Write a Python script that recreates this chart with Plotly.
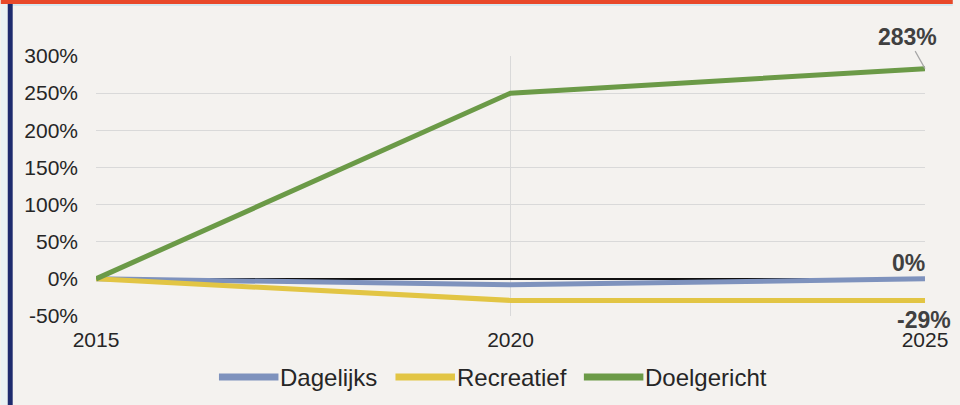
import plotly.graph_objects as go

YEARS = [2015, 2020, 2025]
SERIES = ["Dagelijks", "Recreatief", "Doelgericht"]
DAGELIJKS = [0, -8, 0]
RECREATIEF = [0, -29, -29]
DOELGERICHT = [0, 250, 283]
END_LABELS = ["0%", "-29%", "283%"]
Y_TICKS = [-50, 0, 50, 100, 150, 200, 250, 300]
Y_TICK_LABELS = ["-50%", "0%", "50%", "100%", "150%", "200%", "250%", "300%"]

COLORS = ["#7E92BD", "#E2C544", "#6B9A47"]
BGND = "#F4F2EF"
TXT = "#262626"
FONT = "Liberation Sans, Arial, sans-serif"

W, H = 960, 405
L, R, T, B = 96, 28, 56, 89


def px_x(px):
    return (px - L) / (W - L - R)


def px_y(py):
    return (H - B - py) / (H - T - B)


values = [DAGELIJKS, RECREATIEF, DOELGERICHT]

fig = go.Figure()
for name, vals, color in zip(SERIES, values, COLORS):
    fig.add_trace(go.Scatter(
        x=YEARS, y=vals, name=name, mode="lines",
        line=dict(color=color, width=5),
        showlegend=False, hoverinfo="skip",
    ))

# end-of-line labels
lbl_font = dict(size=23, color="#404040", family=FONT, weight="bold")
fig.add_annotation(x=YEARS[-1], y=DOELGERICHT[-1], text=END_LABELS[2],
                   showarrow=True, ax=-18, ay=-32, arrowhead=0, arrowwidth=1.2,
                   arrowcolor="#A6A6A6", font=lbl_font)
fig.add_annotation(x=YEARS[-1], y=DAGELIJKS[-1], text=END_LABELS[0],
                   showarrow=False, xanchor="right", yanchor="bottom",
                   xshift=2, yshift=1, font=lbl_font)
fig.add_annotation(x=YEARS[-1], y=RECREATIEF[-1], text=END_LABELS[1],
                   showarrow=False, xanchor="center", yanchor="middle",
                   xshift=-1, yshift=-20, font=lbl_font)

# hand-made legend (long line swatches like the original)
leg_y = px_y(377)
leg_starts = [220, 398, 588]
for name, color, x0 in zip(SERIES, COLORS, leg_starts):
    fig.add_shape(type="line", xref="paper", yref="paper",
                  x0=px_x(x0), x1=px_x(x0 + 60), y0=leg_y, y1=leg_y,
                  line=dict(color=color, width=7))
    fig.add_annotation(xref="paper", yref="paper", x=px_x(x0 + 60), y=leg_y,
                       text=name, showarrow=False, xanchor="left", yanchor="middle",
                       font=dict(size=24, color=TXT, family=FONT))

# frame: red top bar, navy left bar
fig.add_shape(type="rect", xref="paper", yref="paper",
              x0=px_x(0), x1=px_x(W), y0=px_y(6), y1=px_y(0),
              fillcolor="#D3E9F1", line_width=0, layer="above")
fig.add_shape(type="rect", xref="paper", yref="paper",
              x0=px_x(0), x1=px_x(W), y0=px_y(4), y1=px_y(0),
              fillcolor="#E8492A", line_width=0, layer="above")
fig.add_shape(type="rect", xref="paper", yref="paper",
              x0=px_x(0), x1=px_x(7), y0=px_y(H), y1=px_y(4),
              fillcolor="#EAF2F4", line_width=0, layer="above")
fig.add_shape(type="rect", xref="paper", yref="paper",
              x0=px_x(7), x1=px_x(12), y0=px_y(H), y1=px_y(4),
              fillcolor="#1E2B6E", line_width=0, layer="above")

fig.update_layout(
    width=W, height=H,
    margin=dict(l=L, r=R, t=T, b=B),
    paper_bgcolor=BGND, plot_bgcolor=BGND,
    font=dict(family=FONT, color=TXT),
    xaxis=dict(
        range=[YEARS[0], YEARS[-1]], tickvals=YEARS,
        showgrid=True, gridcolor="#D9D9D9", gridwidth=1,
        zeroline=False, showline=False,
        tickfont=dict(size=21, color=TXT), ticklabelstandoff=9,
    ),
    yaxis=dict(
        range=[Y_TICKS[0], Y_TICKS[-1]], tickvals=Y_TICKS, ticktext=Y_TICK_LABELS,
        showgrid=True, gridcolor="#D9D9D9", gridwidth=1,
        zeroline=True, zerolinecolor="#111111", zerolinewidth=2,
        showline=False,
        tickfont=dict(size=21, color=TXT), ticklabelstandoff=17,
    ),
)

fig.write_html("out.html", config={"displayModeBar": False},
               post_script="document.body.style.margin='0';")
